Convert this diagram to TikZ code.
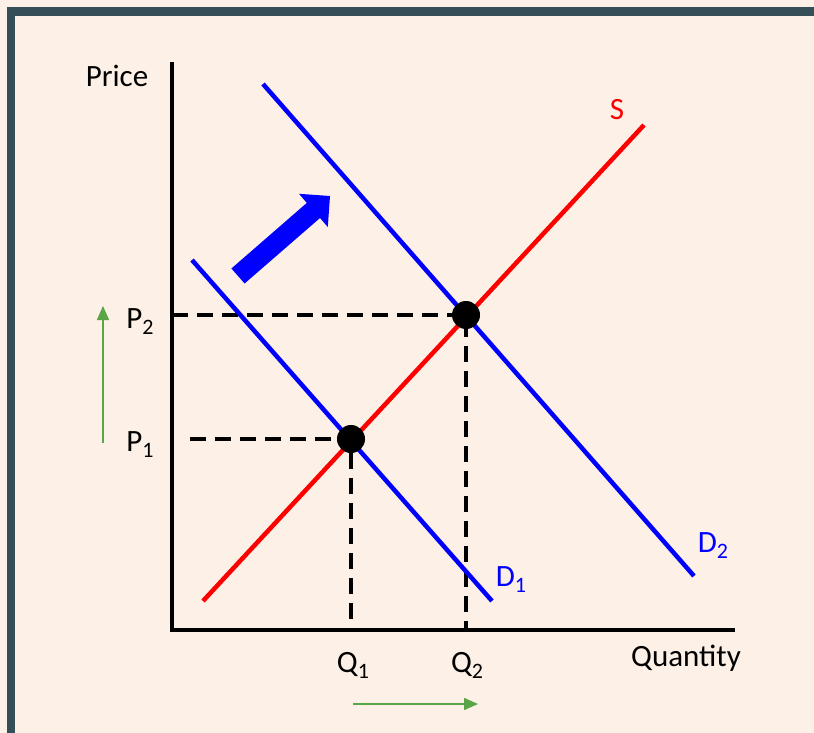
\documentclass[tikz,border=0pt]{standalone}
\usepackage{fontspec}
\setmainfont{Carlito}
\usetikzlibrary{arrows.meta}
\definecolor{bg}{HTML}{FDF0E6}
\definecolor{frame}{HTML}{344F57}
\definecolor{arrgreen}{HTML}{5AA545}
\newcommand\mysub[1]{\raisebox{-0.4ex}{\fontsize{22}{24}\selectfont #1}}
\begin{document}
\begin{tikzpicture}[x=1pt,y=-1pt,
  axis/.style={line width=4.5pt,black},
  curve/.style={line width=4.5pt},
  dashline/.style={line width=4pt,black,dash pattern=on 16pt off 9pt},
  eqdot/.style={circle,fill=black,minimum size=28pt,inner sep=0pt},
  lbl/.style={font=\fontsize{31}{34}\selectfont,inner sep=0pt},
  garrow/.style={arrgreen,line width=1.5pt,-{Triangle[length=14pt,width=12pt]}}]
\fill[bg] (0,0) rectangle (814,733);
\useasboundingbox (0,0) rectangle (814,733);
% frame
\fill[frame] (7,7) rectangle (814,16);
\fill[frame] (7,7) rectangle (15,733);
% axes
\coordinate (origin) at (172,630);
\coordinate (ytop) at (172,62);
\coordinate (xend) at (735,630);
\draw[axis] (ytop) -- (origin) -- (xend);
\node[lbl] (price) at (117,76) {Price};
\node[lbl] (quantity) at (686,658) {Quantity};
% equilibrium points
\coordinate (e1) at (351,439);
\coordinate (e2) at (466,315);
% dashed lines
\coordinate (p1end) at (190,439);
\coordinate (p2end) at (172,315);
\coordinate (q1end) at (351,630);
\coordinate (q2end) at (466,630);
\draw[dashline] (p1end) -- (e1) -- (q1end);
\draw[dashline] (p2end) -- (e2) -- (q2end);
% supply & demand
\coordinate (s0) at (203,601);
\coordinate (s1) at (644,125);
\coordinate (d10) at (192,260);
\coordinate (d11) at (492,601);
\coordinate (d20) at (263,84);
\coordinate (d21) at (694,576);
\draw[curve,blue] (d10) -- (d11);
\draw[curve,blue] (d20) -- (d21);
\draw[curve,red] (s0) -- (s1);
\node[eqdot] (dot1) at (e1) {};
\node[eqdot] (dot2) at (e2) {};
% curve labels
\node[lbl,text=red] (slbl) at (617,110) {S};
\node[lbl,text=blue] (d1lbl) at (511,580) {D\mysub{1}};
\node[lbl,text=blue] (d2lbl) at (713,546) {D\mysub{2}};
% axis labels
\node[lbl] (p2lbl) at (140,322) {P\mysub{2}};
\node[lbl] (p1lbl) at (140,445) {P\mysub{1}};
\node[lbl] (q1lbl) at (353,665) {Q\mysub{1}};
\node[lbl] (q2lbl) at (467,665) {Q\mysub{2}};
% green arrows
\coordinate (gv0) at (103,443);
\coordinate (gv1) at (103,306);
\coordinate (gh0) at (353,704);
\coordinate (gh1) at (478,704);
\draw[garrow] (gv0) -- (gv1);
\draw[garrow] (gh0) -- (gh1);
% blue shift arrow
\fill[blue] (231.4,268.5) -- (306.8,202.9) -- (299,193.8) -- (330,196) -- (327.8,227) -- (320,218) -- (244.6,283.5) -- cycle;
\end{tikzpicture}
\end{document}
